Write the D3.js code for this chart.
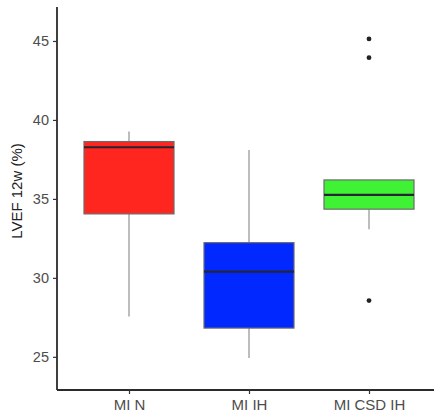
<!DOCTYPE html>
<html><head><meta charset="utf-8">
<script src="https://cdn.jsdelivr.net/npm/d3@7"></script>
<style>body{margin:0;background:#fff}</style>
</head><body>
<svg id="c" width="434" height="417"></svg>
<script>
const categories = ["MI N", "MI IH", "MI CSD IH"];
const whiskerLow = [27.55, 24.92, 33.08];
const q1 = [34.05, 26.82, 34.35];
const median = [38.27, 30.4, 35.25];
const q3 = [38.63, 32.23, 36.2];
const whiskerHigh = [39.26, 38.1, 36.2];
const outliers = [[], [], [45.13, 43.94, 28.56]];
const fills = ["#FF2620", "#0028FF", "#40F234"];
const yTicks = [25, 30, 35, 40, 45];

const svg = d3.select("#c");
const y = d3.scaleLinear().domain([22.9, 47.15]).range([390, 7]);
const xp = d3.scalePoint().domain(categories).range([57 + 0.6 * 120, 57 + 2.6 * 120]);
const bw = 90;
const font = "Liberation Sans, Arial, sans-serif";

const g = svg.append("g");
categories.forEach((c, i) => {
  const cx = xp(c);
  g.append("line").attr("x1", cx).attr("x2", cx).attr("y1", y(whiskerHigh[i])).attr("y2", y(q3[i]))
    .attr("stroke", "#9a9a9a").attr("stroke-width", 1.3);
  g.append("line").attr("x1", cx).attr("x2", cx).attr("y1", y(q1[i])).attr("y2", y(whiskerLow[i]))
    .attr("stroke", "#9a9a9a").attr("stroke-width", 1.3);
  g.append("rect").attr("x", cx - bw / 2).attr("width", bw)
    .attr("y", y(q3[i])).attr("height", y(q1[i]) - y(q3[i]))
    .attr("fill", fills[i]).attr("stroke", "#6b6b6b").attr("stroke-width", 1.2);
  g.append("line").attr("x1", cx - bw / 2).attr("x2", cx + bw / 2).attr("y1", y(median[i])).attr("y2", y(median[i]))
    .attr("stroke", "#262633").attr("stroke-width", 2.2);
  outliers[i].forEach(v => {
    g.append("circle").attr("cx", cx).attr("cy", y(v)).attr("r", 2.4).attr("fill", "#222");
  });
});

const yAxis = svg.append("g").attr("transform", "translate(57,0)")
  .call(d3.axisLeft(y).tickValues(yTicks).tickSize(4).tickPadding(4));
const xAxis = svg.append("g").attr("transform", "translate(0,390)")
  .call(d3.axisBottom(xp).tickSize(4).tickPadding(5));
[yAxis, xAxis].forEach(a => {
  a.select(".domain").attr("stroke", "#2b2b2b").attr("stroke-width", 1.8);
  a.selectAll(".tick line").attr("stroke", "#333").attr("stroke-width", 1.2);
  a.selectAll(".tick text").attr("fill", "#4d4d4d").style("font-family", font);
});
yAxis.selectAll(".tick text").style("font-size", "14.5px");
xAxis.selectAll(".tick text").style("font-size", "15px");
yAxis.select(".domain").attr("d", "M0,7V390");
xAxis.select(".domain").attr("d", "M57,0H434");

svg.append("text").attr("transform", "translate(18,191) rotate(-90)")
  .attr("text-anchor", "middle").attr("dominant-baseline", "middle")
  .style("font-family", font).style("font-size", "15px").attr("fill", "#222")
  .text("LVEF 12w (%)");
</script>
</body></html>
